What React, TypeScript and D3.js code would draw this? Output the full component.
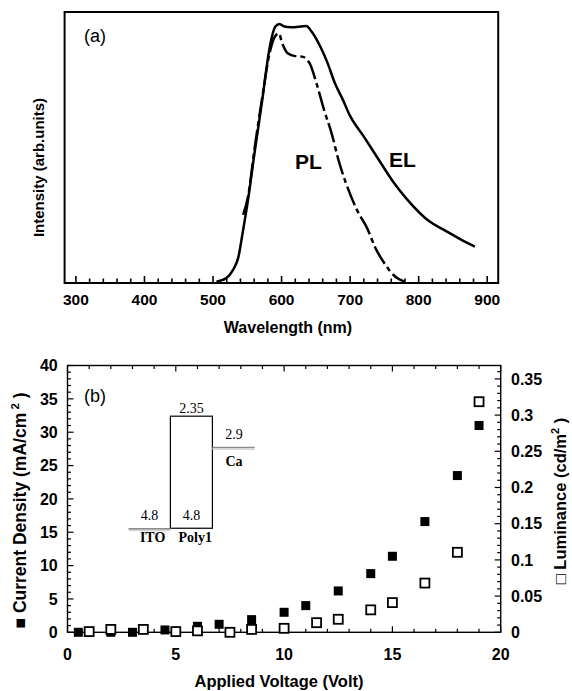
import React from "react";
import * as d3 from "d3";

// ---------- Panel (a) data ----------
const elWavelength = [505, 519, 529, 537, 543, 551, 561, 572, 582, 591, 597, 604, 614, 636, 644, 657, 667, 678, 689, 699, 720, 742, 763, 784, 816, 837, 858, 882];
const elIntensity = [0.005, 0.018, 0.05, 0.1, 0.19, 0.32, 0.51, 0.71, 0.9, 0.99, 1.0, 0.99, 0.987, 0.992, 0.97, 0.91, 0.85, 0.77, 0.71, 0.65, 0.565, 0.475, 0.39, 0.32, 0.237, 0.205, 0.173, 0.14];
const plWavelength = [544, 551, 561, 572, 582.5, 590, 596, 601, 609, 620, 630, 641, 651, 662, 673, 683, 694, 710, 726, 736, 750, 766, 779];
const plIntensity = [0.263, 0.333, 0.526, 0.72, 0.887, 0.95, 0.964, 0.925, 0.887, 0.876, 0.874, 0.848, 0.771, 0.668, 0.578, 0.475, 0.385, 0.282, 0.205, 0.14, 0.076, 0.024, 0.005];
const wavelengthTicks = [300, 400, 500, 600, 700, 800, 900];

// ---------- Panel (b) data ----------
const voltsJ = [0.5, 2, 3, 4.5, 6, 7, 8.5, 10, 11, 12.5, 14, 15, 16.5, 18, 19];
const currentDensity = [0, 0, 0, 0.35, 0.9, 1.2, 1.9, 3.0, 4.0, 6.2, 8.8, 11.4, 16.6, 23.5, 31.0];
const voltsL = [1, 2, 3.5, 5, 6, 7.5, 8.5, 10, 11.5, 12.5, 14, 15, 16.5, 18, 19];
const luminance = [0.001, 0.004, 0.004, 0.001, 0.002, 0, 0.004, 0.0055, 0.0133, 0.018, 0.031, 0.041, 0.068, 0.1105, 0.3185];
const voltTicks = [0, 5, 10, 15, 20];
const currentTicks = [0, 5, 10, 15, 20, 25, 30, 35, 40];
const lumTicks = [0, 0.05, 0.1, 0.15, 0.2, 0.25, 0.3, 0.35];

const SANS = "'Liberation Sans', Arial, Helvetica, sans-serif";
const SERIF = "'Liberation Serif', 'Times New Roman', serif";

export default function App() {
  // Panel (a) scales
  const xA = d3.scaleLinear().domain([283.5, 916]).range([64.6, 498.2]);
  const yA = d3.scaleLinear().domain([0, 1]).range([283, 24]);
  const lineA = d3
    .line<[number, number]>()
    .x((d) => xA(d[0]))
    .y((d) => yA(d[1]))
    .curve(d3.curveMonotoneX);
  const elPath = lineA(elWavelength.map((w, i) => [w, elIntensity[i]] as [number, number])) || "";
  const plPath = lineA(plWavelength.map((w, i) => [w, plIntensity[i]] as [number, number])) || "";
  const minorA = d3.range(300, 901, 20);

  // Panel (b) scales
  const xB = d3.scaleLinear().domain([0, 20]).range([67.5, 500.7]);
  const yB = d3.scaleLinear().domain([0, 40]).range([632.3, 365.5]);
  const yL = d3.scaleLinear().domain([0, 0.05]).range([632.3, 596.1]);
  const minorX = d3.range(0, 20.01, 1);
  const minorYB = d3.range(0, 40.01, 1);
  const minorYL = d3.range(0, 0.3601, 0.01);
  const bTop = yB(40), bBot = yB(0), bLeft = xB(0), bRight = xB(20);
  const sq = 9;

  return (
    <svg
      width={572}
      height={691}
      style={{ position: "absolute", left: 0, top: 0, background: "#fff" }}
      xmlns="http://www.w3.org/2000/svg"
    >
      <rect x={0} y={0} width={572} height={691} fill="#fff" />
      {/* ================= Panel (a) ================= */}
      <rect x={xA.range()[0]} y={12} width={xA.range()[1] - xA.range()[0]} height={283 - 12} fill="none" stroke="#000" strokeWidth={2} />
      {minorA.map((t) => (
        <line key={"ma" + t} x1={xA(t)} x2={xA(t)} y1={283} y2={283 - (t % 100 === 0 ? 7 : 4.5)} stroke="#000" strokeWidth={1.6} />
      ))}
      {wavelengthTicks.map((t) => (
        <text key={"ta" + t} x={xA(t)} y={305} textAnchor="middle" fontFamily={SANS} fontWeight="bold" fontSize={15.5}>
          {t}
        </text>
      ))}
      <text x={288} y={333} textAnchor="middle" fontFamily={SANS} fontWeight="bold" fontSize={16}>
        Wavelength (nm)
      </text>
      <text transform="translate(43.5,167.5) rotate(-90)" textAnchor="middle" fontFamily={SANS} fontWeight="bold" fontSize={15}>
        Intensity (arb.units)
      </text>
      <text x={84} y={42} fontFamily={SANS} fontSize={18}>(a)</text>
      <path d={elPath} fill="none" stroke="#000" strokeWidth={2.5} />
      <path d={plPath} fill="none" stroke="#000" strokeWidth={2.5} strokeDasharray="20 4 5 4" />
      <text x={295} y={169} fontFamily={SANS} fontWeight="bold" fontSize={21}>PL</text>
      <text x={389} y={167} fontFamily={SANS} fontWeight="bold" fontSize={21}>EL</text>

      {/* ================= Panel (b) ================= */}
      <rect x={bLeft} y={bTop} width={bRight - bLeft} height={bBot - bTop} fill="none" stroke="#000" strokeWidth={1.4} />
      {minorX.map((t) => {
        const major = Math.abs(t % 5) < 1e-6;
        const len = major ? 6 : 3.5;
        return (
          <g key={"bx" + t}>
            <line x1={xB(t)} x2={xB(t)} y1={bBot} y2={bBot - len} stroke="#000" strokeWidth={1.2} />
            <line x1={xB(t)} x2={xB(t)} y1={bTop} y2={bTop + len} stroke="#000" strokeWidth={1.2} />
          </g>
        );
      })}
      {minorYB.map((t) => {
        const major = Math.abs(t % 5) < 1e-6;
        return <line key={"by" + t} x1={bLeft} x2={bLeft + (major ? 6 : 3.5)} y1={yB(t)} y2={yB(t)} stroke="#000" strokeWidth={1.2} />;
      })}
      {minorYL.map((t, i) => {
        const major = i % 5 === 0;
        return <line key={"bl" + i} x1={bRight} x2={bRight - (major ? 6 : 3.5)} y1={yL(t)} y2={yL(t)} stroke="#000" strokeWidth={1.2} />;
      })}
      {currentTicks.map((t) => (
        <text key={"tc" + t} x={57.7} y={yB(t) + 5.7} textAnchor="end" fontFamily={SANS} fontWeight="bold" fontSize={16}>
          {t}
        </text>
      ))}
      {lumTicks.map((t) => (
        <text key={"tl" + t} x={511} y={yL(t) + 5.7} textAnchor="start" fontFamily={SANS} fontWeight="bold" fontSize={16}>
          {t}
        </text>
      ))}
      {voltTicks.map((t) => (
        <text key={"tv" + t} x={xB(t)} y={660} textAnchor="middle" fontFamily={SANS} fontWeight="bold" fontSize={16}>
          {t}
        </text>
      ))}
      <text x={279} y={687} textAnchor="middle" fontFamily={SANS} fontWeight="bold" fontSize={16.5}>
        Applied Voltage (Volt)
      </text>
      <text transform="translate(26,510.5) rotate(-90)" textAnchor="middle" fontFamily={SANS} fontWeight="bold" fontSize={17.5}>
        <tspan>■ Current Density (mA/cm</tspan>
        <tspan dy={-7} fontSize={11.5}> 2</tspan>
        <tspan dy={7}> )</tspan>
      </text>
      <text transform="translate(566,501) rotate(-90)" textAnchor="middle" fontFamily={SANS} fontWeight="bold" fontSize={16.5}>
        <tspan>□ Luminance (cd/m</tspan>
        <tspan dy={-7} fontSize={11}>2</tspan>
        <tspan dy={7}> )</tspan>
      </text>
      <text x={84} y={402} fontFamily={SANS} fontSize={18}>(b)</text>

      {/* Energy level inset */}
      <rect x={xB(4.75)} y={yB(32.4)} width={xB(6.69) - xB(4.75)} height={yB(15.6) - yB(32.4)} fill="none" stroke="#000" strokeWidth={1.2} />
      <line x1={xB(2.82)} x2={xB(4.75)} y1={yB(15.5)} y2={yB(15.5)} stroke="#8c8c8c" strokeWidth={1.6} />
      <line x1={xB(2.82)} x2={xB(4.75)} y1={yB(15.5) + 1.6} y2={yB(15.5) + 1.6} stroke="#d4d4d4" strokeWidth={1.6} />
      <line x1={xB(6.69)} x2={xB(8.64)} y1={yB(27.7)} y2={yB(27.7)} stroke="#8c8c8c" strokeWidth={1.6} />
      <line x1={xB(6.69)} x2={xB(8.64)} y1={yB(27.7) + 1.6} y2={yB(27.7) + 1.6} stroke="#d4d4d4" strokeWidth={1.6} />
      <text x={xB(5.72)} y={yB(32.9)} textAnchor="middle" fontFamily={SERIF} fontSize={14}>2.35</text>
      <text x={xB(7.69)} y={yB(29.0)} textAnchor="middle" fontFamily={SERIF} fontSize={14}>2.9</text>
      <text x={xB(7.69)} y={yB(25.0)} textAnchor="middle" fontFamily={SERIF} fontWeight="bold" fontSize={14}>Ca</text>
      <text x={xB(3.79)} y={yB(16.8)} textAnchor="middle" fontFamily={SERIF} fontSize={14}>4.8</text>
      <text x={xB(5.72)} y={yB(16.8)} textAnchor="middle" fontFamily={SERIF} fontSize={14}>4.8</text>
      <text x={xB(3.93)} y={yB(13.5)} textAnchor="middle" fontFamily={SERIF} fontWeight="bold" fontSize={14}>ITO</text>
      <text x={xB(5.9)} y={yB(13.5)} textAnchor="middle" fontFamily={SERIF} fontWeight="bold" fontSize={14}>Poly1</text>

      {/* Data squares */}
      {voltsJ.map((v, i) => (
        <rect key={"fj" + i} x={xB(v) - sq / 2} y={yB(currentDensity[i]) - sq / 2} width={sq} height={sq} fill="#000" />
      ))}
      {voltsL.map((v, i) => (
        <rect key={"ol" + i} x={xB(v) - sq / 2} y={yL(luminance[i]) - sq / 2} width={sq} height={sq} fill="#fff" stroke="#000" strokeWidth={1.8} />
      ))}
    </svg>
  );
}
